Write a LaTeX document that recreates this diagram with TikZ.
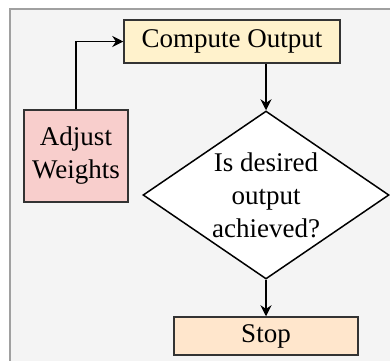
\documentclass[tikz,border=0pt]{standalone}
\usepackage{fontspec}
\setmainfont{Liberation Serif}
\usetikzlibrary{shapes.geometric,arrows.meta}
\definecolor{panelbg}{HTML}{F4F4F4}
\definecolor{panelrule}{HTML}{A0A0A0}
\definecolor{boxrule}{HTML}{333333}
\definecolor{computefill}{HTML}{FFF2CC}
\definecolor{adjustfill}{HTML}{F8CECC}
\definecolor{stopfill}{HTML}{FFE6CC}
\tikzset{
  flowbox/.style={draw=boxrule, line width=1.5pt, inner sep=0pt, align=center,
    font=\fontsize{27}{33}\selectfont},
  flowarrow/.style={draw=black, line width=1.5pt, -{Stealth[length=11pt,width=11pt]}}
}
\begin{document}
\begin{tikzpicture}[x=1pt,y=-1pt]
\useasboundingbox (0,0) rectangle (390,360);
% panel
\draw[draw=panelrule, line width=1.5pt, fill=panelbg] (10,9) rectangle (420,400);
% nodes
\node[flowbox, fill=computefill, minimum width=216pt, minimum height=43pt] (compute) at (232,41.5) {Compute Output};
\node[flowbox, fill=white, draw=black, diamond, shape aspect=1.46, minimum width=246pt, minimum height=168pt] (check) at (266,195) {Is desired\\output\\achieved?};
\node[flowbox, fill=stopfill, minimum width=184pt, minimum height=38pt] (stop) at (266,336) {Stop};
\node[flowbox, fill=adjustfill, minimum width=104pt, minimum height=92pt] (adjust) at (76,156) {Adjust\\Weights};
% connectors
\draw[flowarrow] (compute.south -| check.north) -- (check.north);
\draw[flowarrow] (check.south) -- (stop.north);
\draw[flowarrow] (adjust.north) |- (compute.west);
\end{tikzpicture}
\end{document}
